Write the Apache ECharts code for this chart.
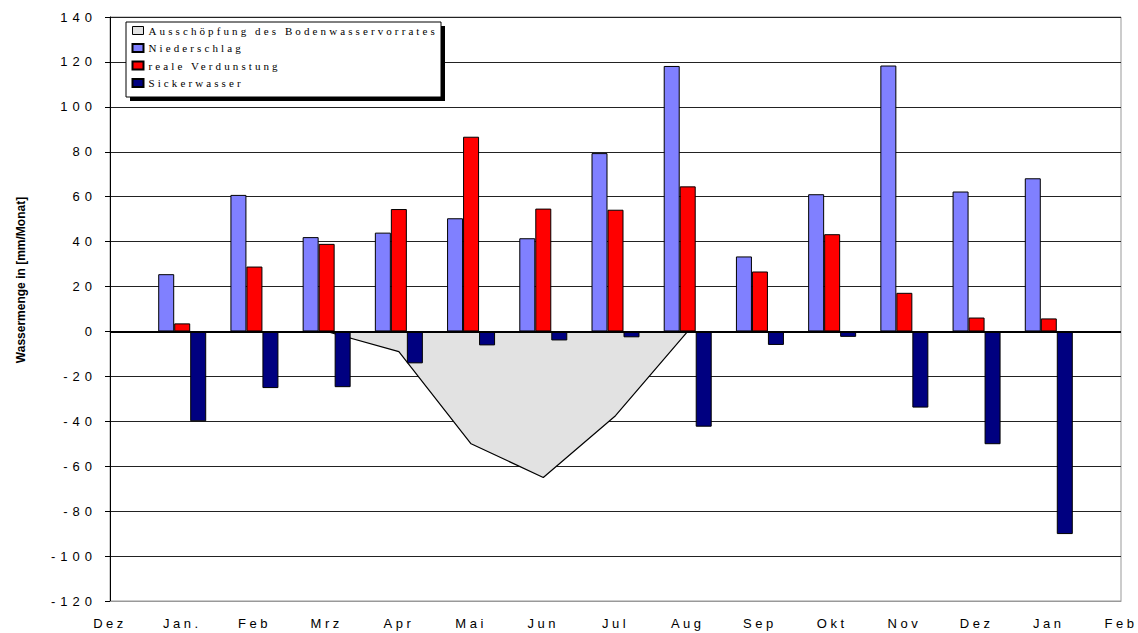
<!DOCTYPE html>
<html>
<head>
<meta charset="utf-8">
<style>
  html, body { margin: 0; padding: 0; background: #fff; }
  #chart { width: 1138px; height: 633px; }
  /* gesperrte Schrift wie im Excel-Original */
  #chart text[style*="Arial"] { letter-spacing: 5px; }
  #chart text[style*="Helvetica"] { letter-spacing: 3.5px; }
  #chart text[style*="Times"] { letter-spacing: 3.1px; }
</style>
</head>
<body>
<div id="chart"></div>
<script src="https://cdn.jsdelivr.net/npm/echarts@6/dist/echarts.min.js"></script>
<script>
// Monate (Achsenbeschriftung)
var months = ['Dez', 'Jan.', 'Feb', 'Mrz', 'Apr', 'Mai', 'Jun', 'Jul', 'Aug', 'Sep', 'Okt', 'Nov', 'Dez', 'Jan', 'Feb'];
// Werte in mm/Monat
var niederschlag = ['-', 25.5, 60.8, 42, 44, 50.4, 41.5, 79.4, 118.2, 33.4, 61.1, 118.4, 62.3, 68.2, '-'];
var verdunstung  = ['-', 3.6, 28.9, 39, 54.5, 86.7, 54.7, 54.2, 64.6, 26.7, 43.3, 17.2, 6.2, 5.8, '-'];
var sickerwasser = ['-', -40, -25.2, -24.8, -14.2, -6.2, -4, -2.6, -42.4, -6, -2.4, -33.9, -50.2, -90.2, '-'];
var ausschoepfung = ['-', '-', '-', 0, -9, -50, -65, -37.5, 0, '-', '-', '-', '-', '-', '-'];

var chart = echarts.init(document.getElementById('chart'), null, { renderer: 'svg' });

var barBorder = { borderColor: '#000', borderWidth: 1 };

var option = {
  animation: false,
  backgroundColor: '#fff',
  grid: {
    left: 110, right: 17, top: 17, bottom: 32,
    show: true, borderColor: '#999', borderWidth: 1, backgroundColor: 'transparent'
  },
  graphic: [
    { type: 'rect', z: 1, shape: { x: 130, y: 26, width: 315, height: 75 }, style: { fill: '#000' } },
    { type: 'rect', z: 2, shape: { x: 126, y: 22, width: 315, height: 75 }, style: { fill: '#fff', stroke: '#000', lineWidth: 1 } },
    {
      type: 'text', x: 21, y: 280, rotation: Math.PI / 2,
      style: {
        text: 'Wassermenge in [mm/Monat]', fill: '#000',
        font: 'bold 12px "Liberation Sans"', textAlign: 'center', textVerticalAlign: 'middle'
      }
    }
  ],
  legend: {
    orient: 'vertical', left: 126.5, top: 20, z: 10,
    itemWidth: 11, itemHeight: 8, itemGap: 6.5, selectedMode: false,
    textStyle: { fontFamily: 'Times New Roman', fontSize: 11, color: '#000' },
    data: [
      { name: 'Ausschöpfung des Bodenwasservorrates', icon: 'rect', itemStyle: { color: '#E2E2E2', borderColor: '#000', borderWidth: 1 } },
      { name: 'Niederschlag', icon: 'rect' },
      { name: 'reale Verdunstung', icon: 'rect' },
      { name: 'Sickerwasser', icon: 'rect' }
    ]
  },
  xAxis: {
    type: 'category', data: months, boundaryGap: false,
    axisLine: { onZero: false, lineStyle: { color: '#999', width: 1 } },
    axisTick: { show: false },
    axisLabel: { margin: 16, interval: 0, fontFamily: 'Helvetica', fontSize: 13, color: '#000' },
    splitLine: { show: false }
  },
  yAxis: {
    type: 'value', min: -120, max: 140, interval: 20,
    axisLine: { show: true, lineStyle: { color: '#000', width: 1 } },
    axisTick: { show: true, length: 5, lineStyle: { color: '#000' } },
    axisLabel: { margin: 13, fontFamily: 'Arial', fontSize: 13, color: '#000' },
    splitLine: { lineStyle: { color: '#222', width: 1 } }
  },
  series: [
    {
      name: 'Ausschöpfung des Bodenwasservorrates', type: 'line', data: ausschoepfung,
      symbol: 'none', z: 1,
      lineStyle: { color: '#000', width: 1.2 },
      itemStyle: { color: '#E2E2E2' },
      areaStyle: { color: '#E2E2E2', opacity: 1 }
    },
    {
      name: 'Niederschlag', type: 'bar', data: niederschlag, barWidth: 16, barGap: '0%', z: 3,
      itemStyle: Object.assign({ color: '#8080FF' }, barBorder)
    },
    {
      name: 'reale Verdunstung', type: 'bar', data: verdunstung, barWidth: 16, barGap: '0%', z: 3,
      itemStyle: Object.assign({ color: '#FF0000' }, barBorder)
    },
    {
      name: 'Sickerwasser', type: 'bar', data: sickerwasser, barWidth: 16, barGap: '0%', z: 3,
      itemStyle: Object.assign({ color: '#000080' }, barBorder),
      markLine: {
        silent: true, symbol: ['none', 'none'], label: { show: false },
        lineStyle: { color: '#000', width: 2, type: 'solid' },
        data: [{ yAxis: 0 }]
      }
    }
  ]
};

chart.setOption(option);
</script>
</body>
</html>
